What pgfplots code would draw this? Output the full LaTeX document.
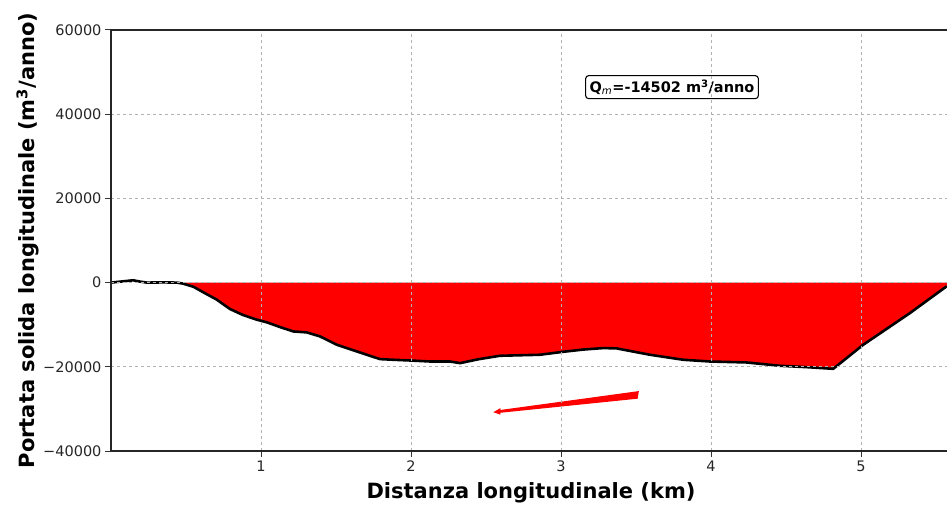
\documentclass[border=0pt]{standalone}
\usepackage{pgfplots}
\pgfplotsset{compat=1.18}
\usepackage{fontspec}
\setmainfont{DejaVu Sans}
\usetikzlibrary{arrows.meta,calc}
\begin{document}
\begin{tikzpicture}
\begin{axis}[
  scale only axis, width=840pt, height=421pt,
  xmin=0, xmax=5.6, ymin=-40000, ymax=60000,
  axis on top, scaled y ticks=false, scaled x ticks=false,
  xtick={1,2,3,4,5}, xticklabels={1,2,3,4,5},
  ytick={-40000,-20000,0,20000,40000,60000},
  yticklabels={−40000,−20000,0,20000,40000,60000},
  grid=major, grid style={dashed, color=black!30, line width=0.8pt},
  tick pos=left, tick align=outside, major tick length=6pt,
  tick style={line width=1pt, color=black!80},
  axis line style={line width=1.2pt, color=black!85},
  ticklabel style={font=\fontsize{14.5}{17}\selectfont, color=black!85},
  xlabel={Distanza longitudinale (km)},
  ylabel={Portata solida longitudinale (m\textsuperscript{3}/anno)},
  label style={font=\fontsize{21}{25}\selectfont\bfseries},
  xlabel style={at={(axis description cs:0.5,0)}, anchor=base, yshift=-47pt},
  ylabel style={at={(axis description cs:-0.0905,0.5)}, anchor=base},
]
\addplot[fill=red, draw=none] coordinates {
(0.44,0) (0.48,-240) (0.55,-1000) (0.615,-2300) (0.705,-4050) (0.793,-6270) (0.88,-7700) (0.971,-8800) (1.04,-9450) (1.13,-10600) (1.215,-11600) (1.305,-11830) (1.393,-12780) (1.505,-14760) (1.638,-16350) (1.793,-18170) (1.882,-18330) (1.993,-18500) (2.127,-18740) (2.26,-18740) (2.327,-19130) (2.45,-18200) (2.593,-17380) (2.86,-17140) (3.015,-16430) (3.15,-15900) (3.282,-15550) (3.371,-15630) (3.593,-17140) (3.815,-18330) (3.993,-18740) (4.238,-18970) (4.46,-19760) (4.638,-20080) (4.815,-20480) (5.015,-14760) (5.327,-7220) (5.571,-880) (5.6,0)
} \closedcycle;
\addplot[black, line width=2.6pt, line join=round] coordinates {
(0.0,0) (0.08,300) (0.147,550) (0.2,200) (0.24,0) (0.35,50) (0.44,0)
(0.48,-240) (0.55,-1000) (0.615,-2300) (0.705,-4050) (0.793,-6270) (0.88,-7700) (0.971,-8800) (1.04,-9450) (1.13,-10600) (1.215,-11600) (1.305,-11830) (1.393,-12780) (1.505,-14760) (1.638,-16350) (1.793,-18170) (1.882,-18330) (1.993,-18500) (2.127,-18740) (2.26,-18740) (2.327,-19130) (2.45,-18200) (2.593,-17380) (2.86,-17140) (3.015,-16430) (3.15,-15900) (3.282,-15550) (3.371,-15630) (3.593,-17140) (3.815,-18330) (3.993,-18740) (4.238,-18970) (4.46,-19760) (4.638,-20080) (4.815,-20480) (5.015,-14760) (5.327,-7220) (5.571,-880)
};
\fill[red] ([xshift=0.6pt,yshift=3.8pt]axis cs:3.515,-26670) -- ([xshift=-0.6pt,yshift=-3.8pt]axis cs:3.515,-26670)
  -- ([yshift=-1.4pt]axis cs:2.595,-30592) -- ([yshift=-3.2pt]axis cs:2.595,-30592)
  -- (axis cs:2.549,-30790)
  -- ([yshift=3.2pt]axis cs:2.595,-30592) -- ([yshift=1.4pt]axis cs:2.595,-30592) -- cycle;
\node[draw=black, line width=1.1pt, rounded corners=3pt, fill=white, inner sep=4pt,
      font=\fontsize{14.5}{17}\selectfont\bfseries] at (axis cs:3.74,46430)
      {Q\textsubscript{\normalfont\itshape m}=-14502 m\textsuperscript{3}/anno};
\end{axis}
\pgfresetboundingbox
\path ($(current axis.south west)+(-111pt,-53pt)$) rectangle ($(current axis.south west)+(836pt,451pt)$);
\end{tikzpicture}
\end{document}
